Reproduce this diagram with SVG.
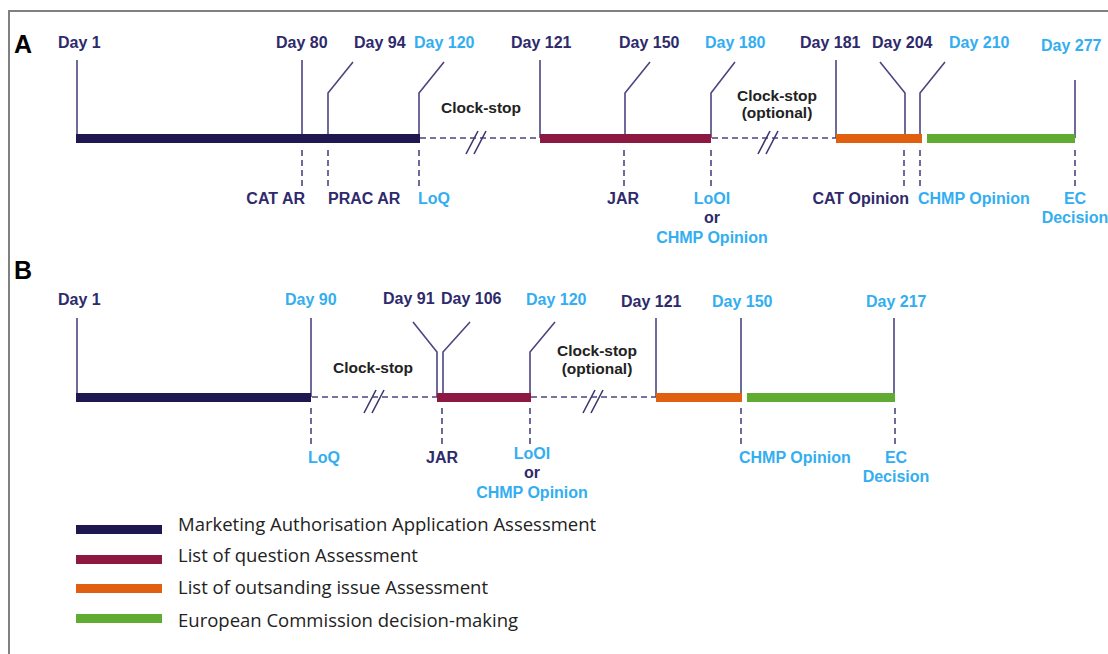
<svg xmlns="http://www.w3.org/2000/svg" width="1108" height="654" viewBox="0 0 1108 654">
<style>
text{font-family:"Liberation Sans",Arial,sans-serif;}
.d{font-size:16px;font-weight:bold;fill:#2e2a6b;}
.b{font-size:16px;font-weight:bold;fill:#33aef0;}
.k{font-size:15.5px;font-weight:bold;fill:#222;}
.p{font-size:25px;font-weight:bold;fill:#000;}
.ln{fill:none;stroke:#4a4680;stroke-width:1.6;}
.ds{fill:none;stroke:#4a4680;stroke-width:1.6;stroke-dasharray:6 4;}
.sl{fill:none;stroke:#3b3770;stroke-width:1.6;}
.lg{font-family:"Open Sans","Noto Sans",sans-serif;font-size:18.5px;fill:#222;}
.m{text-anchor:middle;}
.e{text-anchor:end;}
</style>
<rect x="0" y="0" width="1108" height="654" fill="#fff"/>
<path d="M9 654 V11 H1108" fill="none" stroke="#808080" stroke-width="2"/>

<g id="panelA">
<text class="p" x="14" y="53">A</text>
<g id="connectorsA">
<path class="ln" d="M77 60 V138"/>
<path class="ln" d="M302 60 V138"/>
<path class="ln" d="M328 138 V93 L353 62"/>
<path class="ln" d="M419 138 V93 L444 62"/>
<path class="ln" d="M540 60 V138"/>
<path class="ln" d="M625 138 V93 L650 62"/>
<path class="ln" d="M711 138 V93 L735 62"/>
<path class="ln" d="M836 60 V138"/>
<path class="ln" d="M905 138 V93 L880 62"/>
<path class="ln" d="M920 138 V93 L945 62"/>
<path class="ln" d="M1075 80 V138"/>
<path class="ds" d="M420 138 H540"/>
<path class="ds" d="M712 138 H836"/>
<path class="sl" d="M466 154 L478 131 M474 154 L486 131"/>
<path class="sl" d="M758 154 L770 131 M766 154 L778 131"/>
<path class="ds" d="M302 150 V190"/>
<path class="ds" d="M328 150 V190"/>
<path class="ds" d="M419 150 V190"/>
<path class="ds" d="M624 150 V190"/>
<path class="ds" d="M711 150 V190"/>
<path class="ds" d="M904 150 V190"/>
<path class="ds" d="M920 150 V190"/>
<path class="ds" d="M1075 150 V190"/>
</g>
<rect id="barA1" x="76" y="134" width="344" height="9" fill="#1f1850"/>
<rect id="barA2" x="540" y="134" width="171" height="9" fill="#8d1842"/>
<rect id="barA3" x="836" y="134" width="86" height="9" fill="#e0600f"/>
<rect id="barA4" x="927" y="134" width="148" height="9" fill="#60ab31"/>
<text class="d" x="58" y="48">Day 1</text>
<text class="d" x="276" y="48">Day 80</text>
<text class="d" x="354" y="48">Day 94</text>
<text class="b" x="414" y="48">Day 120</text>
<text class="d" x="511" y="48">Day 121</text>
<text class="d" x="619" y="48">Day 150</text>
<text class="b" x="705" y="48">Day 180</text>
<text class="d" x="800" y="48">Day 181</text>
<text class="d" x="872" y="48">Day 204</text>
<text class="b" x="949" y="48">Day 210</text>
<text class="b" x="1041" y="51">Day 277</text>
<text class="k m" x="481" y="113">Clock-stop</text>
<text class="k m" x="777" y="101">Clock-stop</text>
<text class="k m" x="777" y="118">(optional)</text>
<text class="d e" x="305" y="204">CAT AR</text>
<text class="d" x="328" y="204">PRAC AR</text>
<text class="b" x="418" y="204">LoQ</text>
<text class="d m" x="623" y="204">JAR</text>
<text class="b m" x="712" y="204">LoOI</text>
<text class="d m" x="712" y="223">or</text>
<text class="b m" x="712" y="243">CHMP Opinion</text>
<text class="d e" x="909" y="204">CAT Opinion</text>
<text class="b" x="918" y="204">CHMP Opinion</text>
<text class="b m" x="1075" y="204">EC</text>
<text class="b m" x="1075" y="223">Decision</text>
</g>

<g id="panelB">
<text class="p" x="14" y="279">B</text>
<g id="connectorsB">
<path class="ln" d="M77 318 V397"/>
<path class="ln" d="M311 318 V397"/>
<path class="ln" d="M437 397 V352 L413 322"/>
<path class="ln" d="M443 397 V352 L470 322"/>
<path class="ln" d="M530 397 V352 L555 322"/>
<path class="ln" d="M656 318 V397"/>
<path class="ln" d="M741 318 V397"/>
<path class="ln" d="M894 318 V397"/>
<path class="ds" d="M312 397 H437"/>
<path class="ds" d="M531 397 H656"/>
<path class="sl" d="M364 413 L376 390 M372 413 L384 390"/>
<path class="sl" d="M583 413 L595 390 M591 413 L603 390"/>
<path class="ds" d="M311 408 V446"/>
<path class="ds" d="M442 408 V446"/>
<path class="ds" d="M530 408 V446"/>
<path class="ds" d="M741 408 V446"/>
<path class="ds" d="M895 408 V446"/>
</g>
<rect id="barB1" x="76" y="393" width="235" height="9" fill="#1f1850"/>
<rect id="barB2" x="437" y="393" width="94" height="9" fill="#8d1842"/>
<rect id="barB3" x="656" y="393" width="86" height="9" fill="#e0600f"/>
<rect id="barB4" x="747" y="393" width="148" height="9" fill="#60ab31"/>
<text class="d" x="58" y="305">Day 1</text>
<text class="b" x="285" y="305">Day 90</text>
<text class="d" x="383" y="304">Day 91</text>
<text class="d" x="441" y="304">Day 106</text>
<text class="b" x="526" y="305">Day 120</text>
<text class="d" x="621" y="307">Day 121</text>
<text class="b" x="712" y="307">Day 150</text>
<text class="b" x="866" y="307">Day 217</text>
<text class="k m" x="373" y="373">Clock-stop</text>
<text class="k m" x="597" y="356">Clock-stop</text>
<text class="k m" x="597" y="374">(optional)</text>
<text class="b" x="308" y="463">LoQ</text>
<text class="d m" x="442" y="463">JAR</text>
<text class="b m" x="532" y="459">LoOI</text>
<text class="d m" x="532" y="478">or</text>
<text class="b m" x="532" y="498">CHMP Opinion</text>
<text class="b" x="739" y="463">CHMP Opinion</text>
<text class="b m" x="896" y="463">EC</text>
<text class="b m" x="896" y="482">Decision</text>
</g>

<g id="legend">
<rect x="76" y="525" width="86" height="9" fill="#1f1850"/>
<rect x="76" y="555" width="86" height="9" fill="#8d1842"/>
<rect x="76" y="584" width="86" height="9" fill="#e0600f"/>
<rect x="76" y="614" width="86" height="9" fill="#60ab31"/>
<text class="lg" x="178" y="531">Marketing Authorisation Application Assessment</text>
<text class="lg" x="178" y="562">List of question Assessment</text>
<text class="lg" x="178" y="594">List of outsanding issue Assessment</text>
<text class="lg" x="178" y="627">European Commission decision-making</text>
</g>
</svg>
